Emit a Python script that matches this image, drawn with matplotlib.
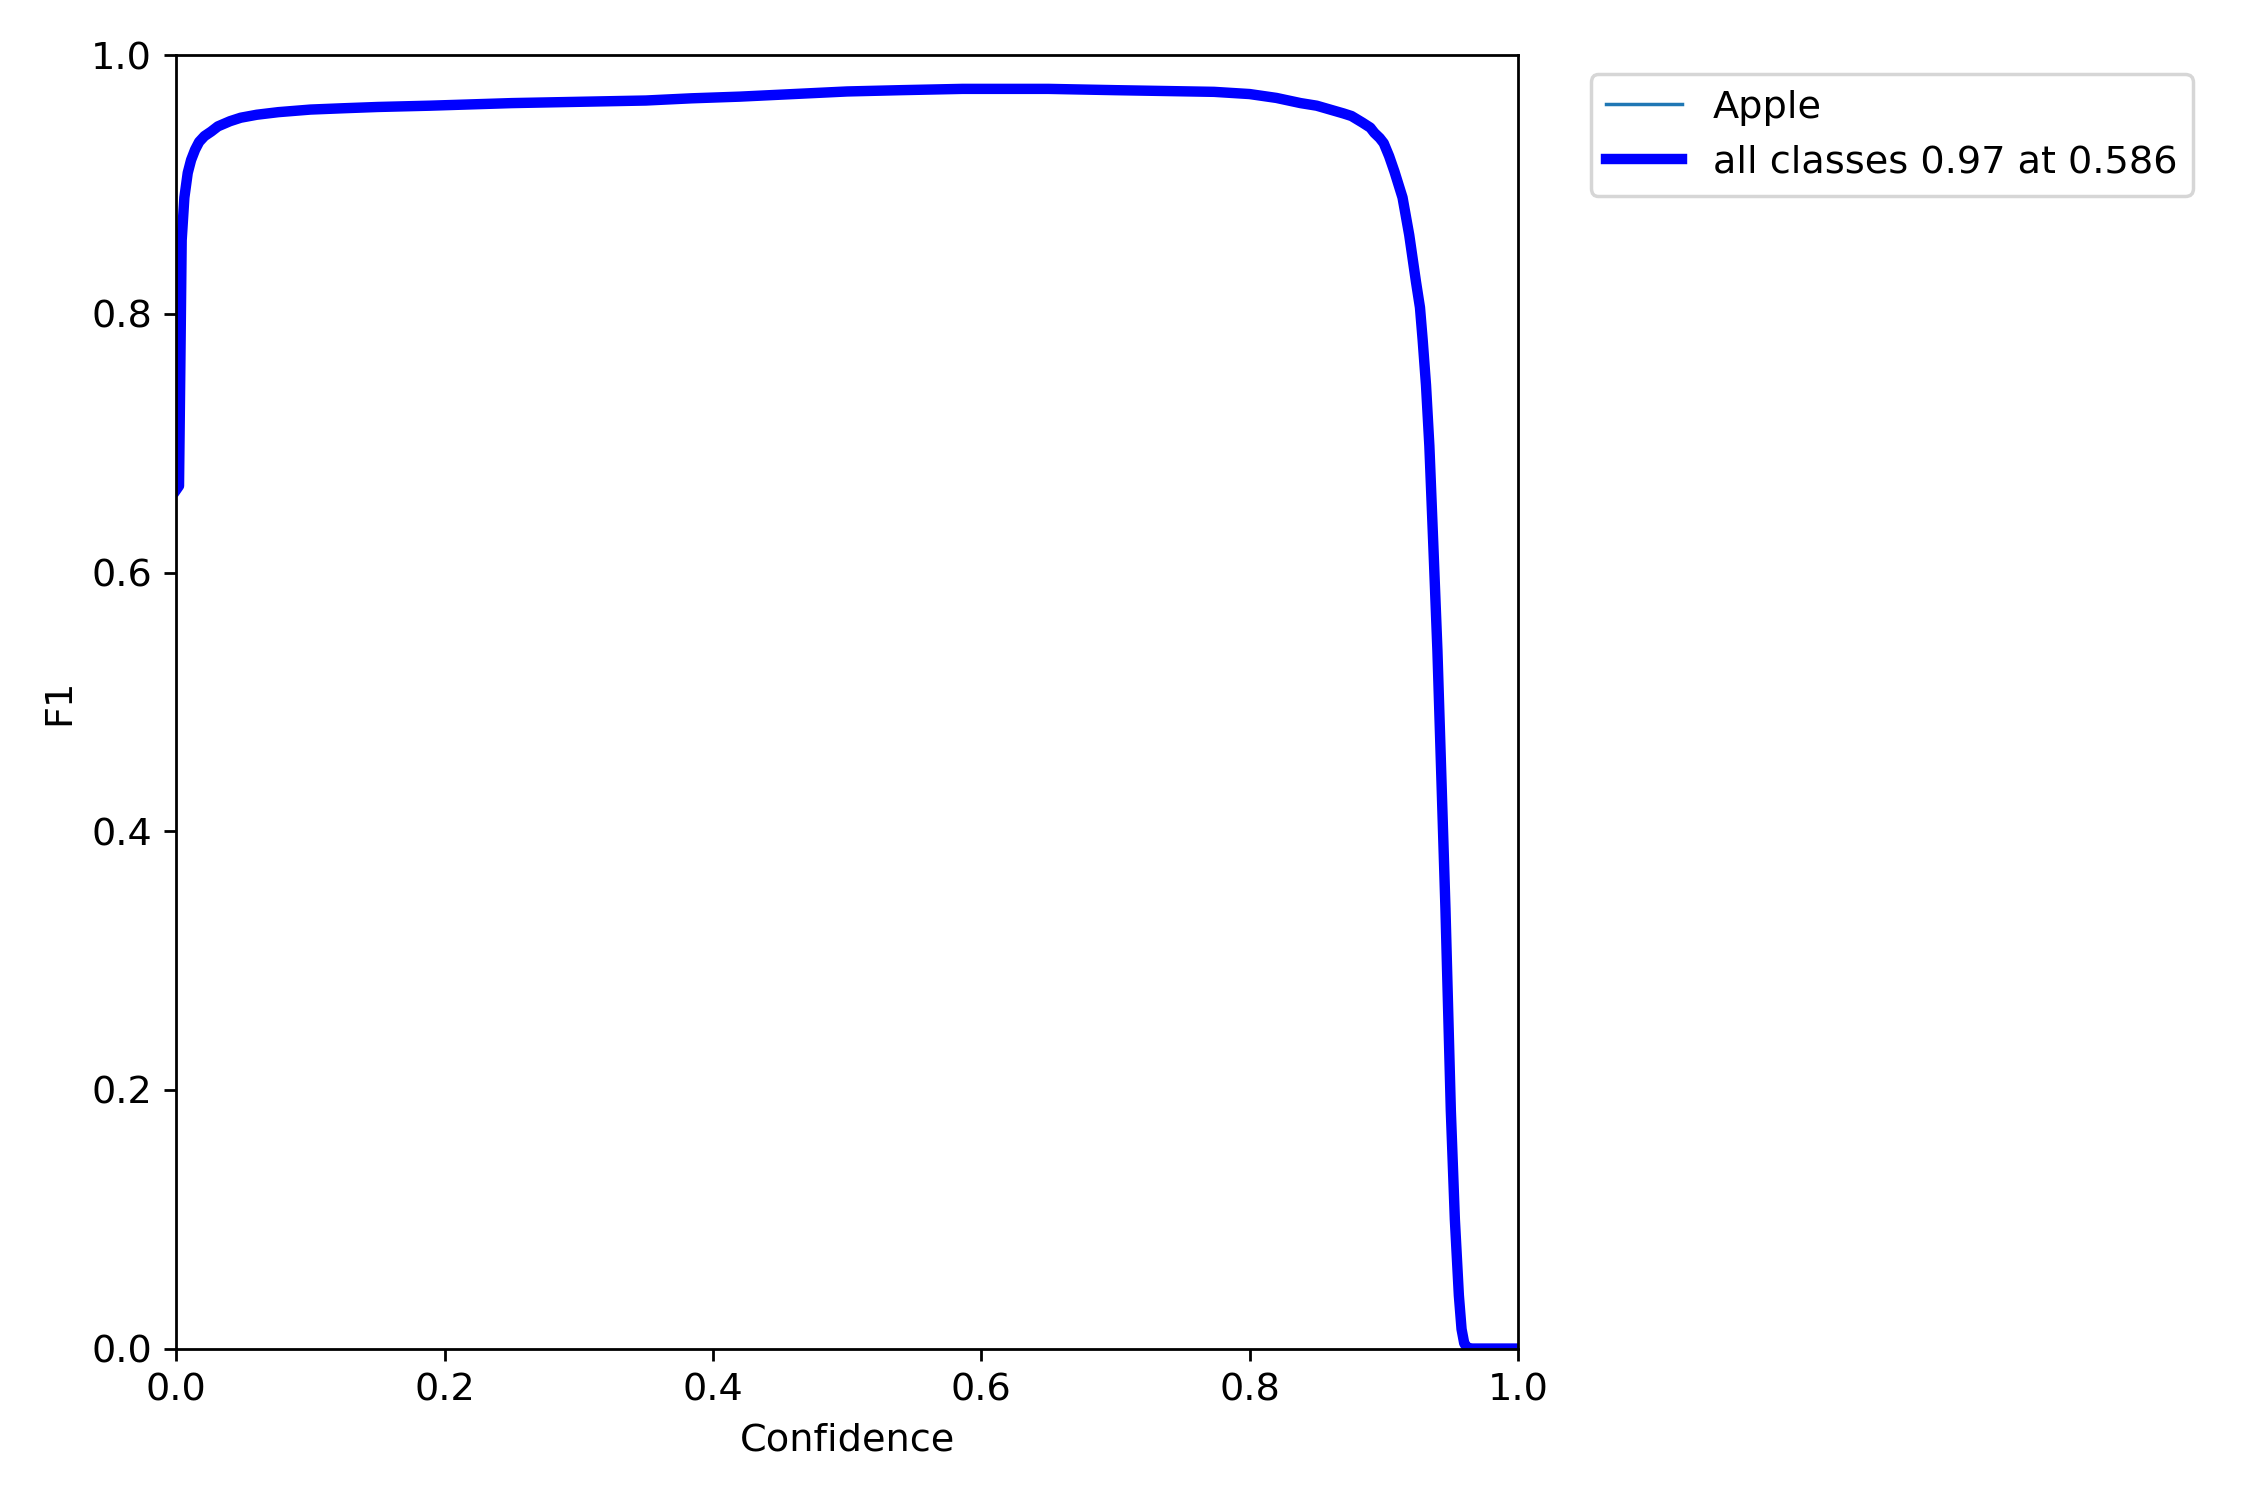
import matplotlib
matplotlib.use("Agg")
import matplotlib.pyplot as plt
import numpy as np

plt.rcParams['font.size'] = 11

# values
names = ["Apple"]
conf = [0.000, 0.002, 0.003, 0.004, 0.006, 0.0085, 0.011, 0.014, 0.017, 0.021,
        0.026, 0.031, 0.040, 0.048, 0.060, 0.076, 0.100, 0.124, 0.150, 0.189,
        0.250, 0.300, 0.350, 0.384, 0.420, 0.460, 0.500, 0.540, 0.586, 0.650,
        0.700, 0.7735, 0.800, 0.820, 0.838, 0.850, 0.860, 0.870, 0.876, 0.884,
        0.890, 0.893, 0.897, 0.900, 0.904, 0.908, 0.911, 0.914, 0.919, 0.924,
        0.927, 0.929, 0.9315, 0.934, 0.937, 0.940, 0.943, 0.946, 0.950, 0.953,
        0.956, 0.958, 0.960, 0.962, 0.965, 1.000]
f1_apple = [0.664, 0.667, 0.760, 0.857, 0.890, 0.909, 0.919, 0.927, 0.933, 0.9375,
            0.941, 0.945, 0.949, 0.9517, 0.954, 0.956, 0.958, 0.959, 0.960, 0.961,
            0.963, 0.964, 0.965, 0.9667, 0.968, 0.970, 0.972, 0.973, 0.974, 0.974,
            0.973, 0.9717, 0.970, 0.967, 0.963, 0.961, 0.958, 0.955, 0.953, 0.948,
            0.944, 0.940, 0.936, 0.932, 0.922, 0.910, 0.900, 0.890, 0.861, 0.825,
            0.805, 0.780, 0.745, 0.698, 0.620, 0.540, 0.440, 0.340, 0.184, 0.100,
            0.041, 0.015, 0.004, 0.001, 0.000, 0.000]
f1_all = f1_apple  # single class: mean curve equals the class curve
best_f1 = 0.97
best_conf = 0.586

fig, ax = plt.subplots(1, 1, figsize=(9, 6), tight_layout=True)

ax.plot(conf, f1_apple, linewidth=1, label=names[0])
ax.plot(conf, f1_all, linewidth=3, color='blue',
        label=f'all classes {best_f1:.2f} at {best_conf:.3f}')

ax.set_xlabel('Confidence')
ax.set_ylabel('F1')
ax.set_xlim(0, 1)
ax.set_ylim(0, 1)
ax.legend(bbox_to_anchor=(1.04, 1), loc="upper left")

fig.savefig('out.png', dpi=250)
